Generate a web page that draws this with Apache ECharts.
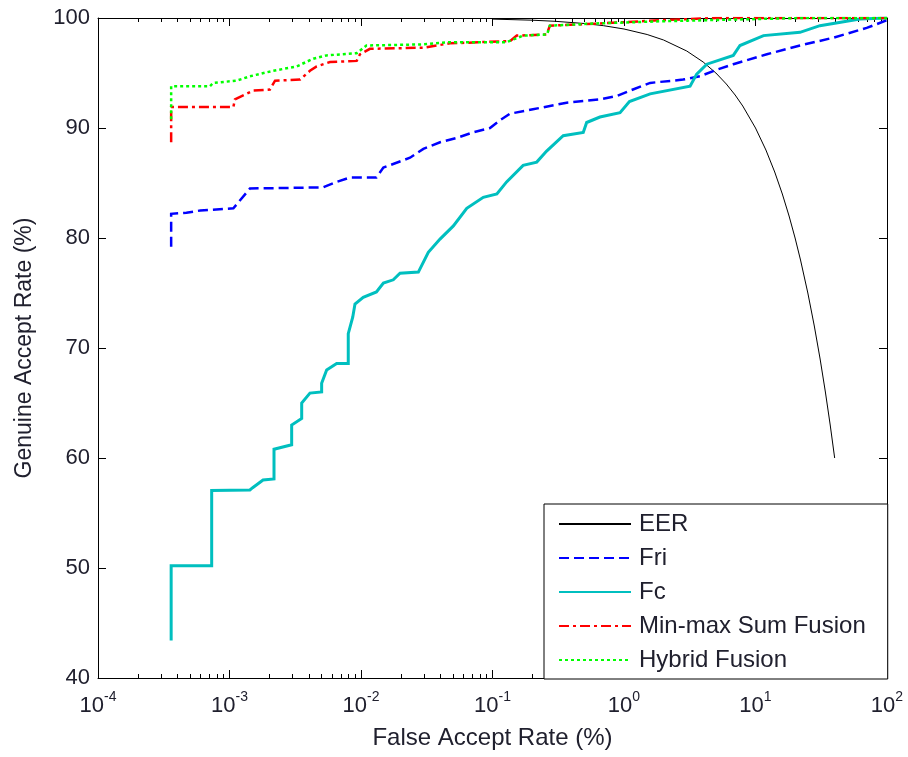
<!DOCTYPE html>
<html>
<head>
<meta charset="utf-8">
<script src="https://cdn.jsdelivr.net/npm/echarts@6/dist/echarts.min.js"></script>
<style>
html,body{margin:0;padding:0;background:#fff;}
#chart{width:908px;height:757px;}
</style>
</head>
<body>
<div id="chart"></div>
<script>
// ---- data: [False Accept Rate (%), Genuine Accept Rate (%)] ----
var seriesNames = ['EER', 'Fri', 'Fc', 'Min-max Sum Fusion', 'Hybrid Fusion'];

var eerData = [
  [0.1, 99.9], [0.2, 99.8], [0.3, 99.7], [0.5, 99.5], [0.7, 99.3], [1, 99], [1.5, 98.5],
  [2, 98], [3, 97], [4, 96], [5, 95], [6, 94], [7, 93], [8, 92], [10, 90], [12, 88],
  [14, 86], [16, 84], [18, 82], [20, 80], [22, 78], [25, 75], [28, 72], [31, 69],
  [34, 66], [37, 63], [40, 60]
];

var friData = [
  [3.6e-4, 79.2], [3.6e-4, 82.2], [4.7e-4, 82.3], [6.0e-4, 82.5], [1.07e-3, 82.7],
  [1.43e-3, 84.5], [5.14e-3, 84.6], [6.53e-3, 85.1], [8.24e-3, 85.5], [1.31e-2, 85.5],
  [1.48e-2, 86.4], [2.36e-2, 87.3], [2.98e-2, 88.1], [3.99e-2, 88.7], [5.35e-2, 89.1],
  [7.11e-2, 89.6], [9.57e-2, 90.0], [0.114, 90.7], [0.136, 91.3], [0.203, 91.7],
  [0.366, 92.3], [0.656, 92.6], [0.879, 92.9], [1.17, 93.5], [1.58, 94.1], [2.81, 94.4],
  [3.78, 94.7], [5.07, 95.3], [6.78, 95.8], [12.2, 96.7], [21.8, 97.5], [38.8, 98.2],
  [70.1, 99.1], [100, 99.8]
];

var fcData = [
  [3.6e-4, 43.4], [3.6e-4, 50.2], [7.32e-4, 50.2], [7.32e-4, 57.05], [1.43e-3, 57.1],
  [1.5e-3, 57.3], [1.8e-3, 58.0], [2.18e-3, 58.1], [2.18e-3, 60.8], [2.97e-3, 61.2],
  [2.97e-3, 63.0], [3.54e-3, 63.6], [3.54e-3, 65.0], [4.09e-3, 65.9], [5.02e-3, 66.0],
  [5.02e-3, 66.8], [5.48e-3, 68.0], [6.53e-3, 68.6], [8.0e-3, 68.6], [8.0e-3, 71.3],
  [8.65e-3, 72.8], [9.0e-3, 74.0], [1.04e-2, 74.6], [1.31e-2, 75.1], [1.48e-2, 75.9],
  [1.76e-2, 76.2], [1.98e-2, 76.8], [2.73e-2, 76.9], [3.25e-2, 78.7], [3.99e-2, 79.9],
  [5.04e-2, 81.1], [6.37e-2, 82.7], [8.51e-2, 83.7], [0.108, 84.0], [0.128, 85.1],
  [0.171, 86.6], [0.217, 86.9], [0.258, 87.9], [0.345, 89.3], [0.49, 89.6], [0.52, 90.5],
  [0.656, 91.0], [0.933, 91.4], [1.1, 92.4], [1.58, 93.1], [3.18, 93.8], [3.57, 94.9],
  [4.26, 95.8], [6.78, 96.6], [7.62, 97.5], [11.5, 98.4], [21.8, 98.7], [30.9, 99.3],
  [49.3, 99.7], [62.3, 99.9], [100, 100]
];

var minmaxData = [
  [3.6e-4, 88.7], [3.6e-4, 91.9], [1.07e-3, 91.9], [1.1e-3, 92.6], [1.52e-3, 93.4],
  [2.03e-3, 93.5], [2.22e-3, 94.3], [3.44e-3, 94.4], [4.09e-3, 95.2], [4.6e-3, 95.6],
  [5.81e-3, 96.0], [9.27e-3, 96.1], [9.82e-3, 96.7], [1.17e-2, 97.2], [2.98e-2, 97.3],
  [4.75e-2, 97.7], [0.136, 97.9], [0.153, 98.4], [0.258, 98.5], [0.273, 99.3],
  [0.656, 99.5], [1.88, 99.8], [5, 100], [100, 100]
];

var hybridData = [
  [3.6e-4, 90.8], [3.6e-4, 93.8], [7.1e-4, 93.8], [7.53e-4, 94.1], [1.13e-3, 94.3],
  [1.43e-3, 94.7], [2.15e-3, 95.2], [3.24e-3, 95.6], [4.34e-3, 96.3], [5.48e-3, 96.6],
  [9.27e-3, 96.8], [1.1e-2, 97.5], [2.98e-2, 97.6], [4.75e-2, 97.8], [0.128, 97.8],
  [0.171, 98.4], [0.26, 98.5], [0.273, 99.3], [0.6, 99.5], [1.88, 99.7], [21.8, 100],
  [100, 100]
];

var yTicks = [40, 50, 60, 70, 80, 90, 100];
var xDecades = [1e-4, 1e-3, 1e-2, 1e-1, 1, 10, 100];
var minorMultipliers = [2, 3, 4, 5, 6, 7, 8, 9];

// ---- chart ----
var FONT = 'Liberation Sans, Arial, sans-serif';
var TXT = '#20202e';
var chart = echarts.init(document.getElementById('chart'), null, {renderer: 'canvas'});

function xAxisBase(pos, showLabel) {
  return {
    type: 'log', logBase: 10, min: xDecades[0], max: xDecades[xDecades.length - 1],
    splitNumber: 6, position: pos,
    axisLine: {show: true, onZero: false, lineStyle: {color: '#000', width: 1}},
    axisTick: {show: true, inside: true, length: 8, lineStyle: {color: '#000', width: 1}},
    splitLine: {show: false},
    axisLabel: showLabel ? {
      show: true, margin: 12, fontFamily: FONT,
      formatter: function (v) {
        var e = Math.round(Math.log10(v));
        return '{b|10}{s|' + e + '}';
      },
      rich: {
        b: {fontSize: 22, fontFamily: FONT, color: TXT, lineHeight: 32},
        s: {fontSize: 14, fontFamily: FONT, color: TXT, lineHeight: 10, verticalAlign: 'top'}
      }
    } : {show: false}
  };
}

function yAxisBase(pos, showLabel) {
  return {
    type: 'value', min: yTicks[0], max: yTicks[yTicks.length - 1], interval: 10, position: pos,
    axisLine: {show: true, onZero: false, lineStyle: {color: '#000', width: 1}},
    axisTick: {show: true, inside: true, length: 8, lineStyle: {color: '#000', width: 1}},
    splitLine: {show: false},
    axisLabel: showLabel ? {show: true, margin: 8, fontSize: 22, fontFamily: FONT, color: TXT} : {show: false}
  };
}

var xMain = xAxisBase('bottom', true);
xMain.name = 'False Accept Rate (%)';
xMain.nameLocation = 'middle';
xMain.nameGap = 48;
xMain.nameTextStyle = {fontSize: 24, fontFamily: FONT, color: TXT};

var yMain = yAxisBase('left', true);
yMain.name = 'Genuine Accept Rate (%)';
yMain.nameLocation = 'middle';
yMain.nameGap = 62;
yMain.nameTextStyle = {fontSize: 23, fontFamily: FONT, color: TXT};

function lineSeries(name, data, color, width, type) {
  return {
    name: name, type: 'line', data: data, xAxisIndex: 0, yAxisIndex: 0,
    symbol: 'none', showSymbol: false, smooth: false, animation: false,
    lineStyle: {color: color, width: width, type: type, cap: 'butt', join: 'miter'},
    itemStyle: {color: color},
    emphasis: {disabled: true}
  };
}

var option = {
  animation: false,
  backgroundColor: '#fff',
  grid: {left: 98, right: 21, top: 18, bottom: 79, containLabel: false},
  xAxis: [xMain, xAxisBase('top', false)],
  yAxis: [yMain, yAxisBase('right', false)],
  legend: {
    orient: 'vertical', left: 544, top: 504, z: 10,
    data: seriesNames,
    backgroundColor: '#fff', borderColor: '#000', borderWidth: 1, borderRadius: 0,
    padding: [8, 22, 7, 14],
    itemWidth: 72, itemHeight: 24, itemGap: 10,
    itemStyle: {opacity: 0, borderWidth: 0},
    textStyle: {fontSize: 24, fontFamily: FONT, color: TXT, lineHeight: 24, padding: [0, 0, 0, 3]},
    selectedMode: false
  },
  series: [
    lineSeries(seriesNames[0], eerData, '#000000', 1, 'solid'),
    lineSeries(seriesNames[1], friData, '#0000ff', 2.5, [10, 5]),
    lineSeries(seriesNames[2], fcData, '#00bfbf', 3, 'solid'),
    lineSeries(seriesNames[3], minmaxData, '#ff0000', 2.5, [10, 4, 3, 4]),
    lineSeries(seriesNames[4], hybridData, '#00ff00', 2.5, [3, 3])
  ]
};
chart.setOption(option);

// minor ticks of the log axis (2..9 x each decade), placed through the axis scale
var yBottom = chart.convertToPixel({yAxisIndex: 0}, yTicks[0]);
var yTop = chart.convertToPixel({yAxisIndex: 0}, yTicks[yTicks.length - 1]);
var MINOR_LEN = 4;
var minorEls = [];
for (var d = 0; d < xDecades.length - 1; d++) {
  for (var m = 0; m < minorMultipliers.length; m++) {
    var px = Math.round(chart.convertToPixel({xAxisIndex: 0}, xDecades[d] * minorMultipliers[m])) + 0.5;
    minorEls.push({
      type: 'line', silent: true, z: 1,
      shape: {x1: px, y1: yBottom, x2: px, y2: yBottom - MINOR_LEN},
      style: {stroke: '#000', lineWidth: 1}
    });
    minorEls.push({
      type: 'line', silent: true, z: 1,
      shape: {x1: px, y1: yTop, x2: px, y2: yTop + MINOR_LEN},
      style: {stroke: '#000', lineWidth: 1}
    });
  }
}
chart.setOption({graphic: {elements: minorEls}});
</script>
</body>
</html>
